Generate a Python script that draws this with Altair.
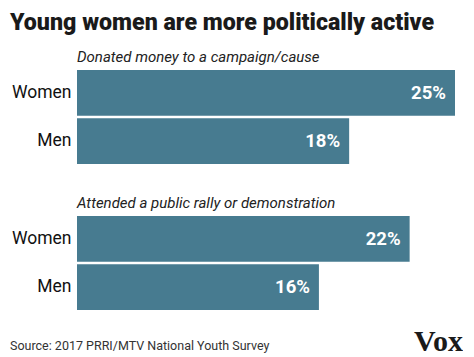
import altair as alt
import pandas as pd

title_text = "Young women are more politically active"
groups = ["Donated money to a campaign/cause", "Attended a public rally or demonstration"]
genders = ["Women", "Men"]
donated = [25, 18]
attended = [22, 16]
source_text = "Source: 2017 PRRI/MTV National Youth Survey"
logo_text = "Vox"

BAR = "#477b90"

def panel(group, vals, extra=None):
    df = pd.DataFrame({
        "gender": genders,
        "value": vals,
        "label": [f"{v}%" for v in vals],
    })
    base = alt.Chart(df).encode(
        y=alt.Y("gender:N", sort=genders,
                scale=alt.Scale(paddingInner=0.05, paddingOuter=0),
                axis=alt.Axis(title=None, ticks=False, domain=False,
                              labelFontSize=17.5, labelPadding=6,
                              labelColor="#111", labelFont="Roboto")),
        x=alt.X("value:Q", scale=alt.Scale(domain=[0, 25]), axis=None),
    )
    bars = base.mark_bar(color=BAR)
    txt = base.mark_text(align="right", baseline="middle", dx=-9, color="white",
                         fontWeight="bold", fontSize=18.5, font="Roboto").encode(
        text="label:N")
    layers = [bars, txt]
    if extra:
        layers += extra
    return alt.layer(*layers).properties(
        width=378, height=94,
        title=alt.TitleParams(group, anchor="start", frame="group", fontStyle="italic",
                              fontSize=15, fontWeight="normal", offset=5,
                              color="#222", font="Roboto"),
    )

foot_df = pd.DataFrame({"src": [source_text], "logo": [logo_text]})
src = alt.Chart(foot_df).mark_text(align="left", baseline="alphabetic", fontSize=12.5,
                                   color="#333", font="Roboto").encode(
    text="src:N", x=alt.value(-67), y=alt.value(134))
logo = alt.Chart(foot_df).mark_text(align="right", baseline="alphabetic", fontSize=30,
                                    fontWeight="bold", color="#1a1a1a",
                                    font="Liberation Serif").encode(
    text="logo:N", x=alt.value(386), y=alt.value(135))

p1 = panel(groups[0], donated)
p2 = panel(groups[1], attended, [src, logo])

chart = alt.vconcat(p1, p2, spacing=32).properties(
    title=alt.TitleParams(title_text, anchor="start", fontSize=23.2, fontWeight=900,
                          font="Roboto", color="#1a1a1a", offset=15),
    padding={"left": 2, "top": 2, "right": 0, "bottom": 0},
).configure_view(stroke=None).configure_concat(spacing=32)

chart.save("out.html", embed_options={"renderer": "svg", "actions": False})
